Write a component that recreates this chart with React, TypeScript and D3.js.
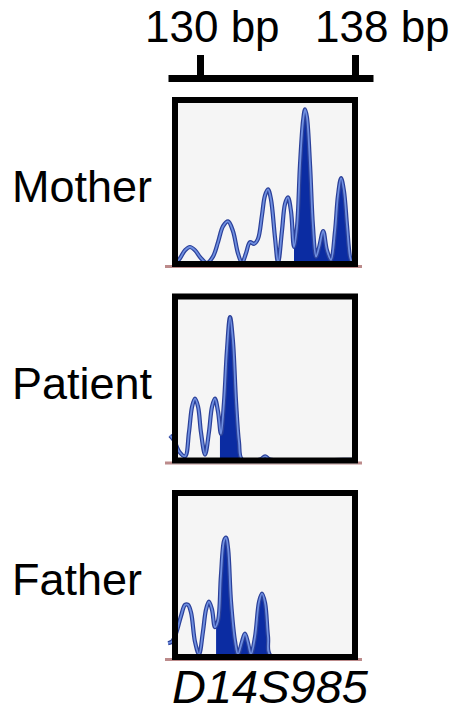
import React, { useEffect, useRef } from "react";
import * as d3 from "d3";

// fragment size labels on the top scale
const tickBp = [130, 138];
const tickLabels = ["130 bp", "138 bp"];

const panelNames = ["Mother", "Patient", "Father"];
const markerName = "D14S985";

// electropherogram traces: [size in bp, signal 0-100]
const motherTrace = [
  [128.76, 0], [128.97, 3], [129.23, 8], [129.48, 10], [129.74, 8], [130.05, 3],
  [130.36, 0], [130.67, 4], [130.93, 13], [131.19, 23], [131.45, 26], [131.7, 20],
  [131.96, 6], [132.17, 0], [132.37, 6], [132.58, 13], [132.79, 12], [132.99, 15],
  [133.2, 30], [133.35, 42], [133.51, 46], [133.66, 40], [133.87, 16], [134.03, 0],
  [134.23, 20], [134.39, 37], [134.54, 41], [134.7, 32], [134.85, 10], [135.01, 23],
  [135.16, 61], [135.32, 89], [135.42, 96], [135.52, 91], [135.68, 61], [135.83, 23],
  [135.99, 4], [136.15, 10], [136.36, 20], [136.55, 8], [136.76, 2], [136.97, 20],
  [137.12, 42], [137.28, 53], [137.43, 45], [137.59, 23], [137.74, 4], [137.85, 0],
];
const patientTrace = [
  [128.45, 15], [128.66, 12], [128.92, 5], [129.23, 2], [129.43, 17], [129.59, 33],
  [129.74, 38], [129.9, 33], [130.05, 17], [130.26, 3], [130.46, 17], [130.62, 33],
  [130.77, 38], [130.93, 30], [131.08, 16], [131.24, 36], [131.39, 68], [131.55, 89],
  [131.7, 74], [131.86, 36], [132.01, 11], [132.17, 0], [133.1, 0], [133.36, 2],
  [133.61, 0], [137.85, 0],
];
const fatherTrace = [
  [128.35, 8], [128.55, 9], [128.76, 14], [129.02, 25], [129.23, 32], [129.38, 32],
  [129.54, 27], [129.74, 9], [129.95, 1], [130.15, 15], [130.31, 29], [130.46, 34],
  [130.62, 29], [130.77, 18], [130.93, 22], [131.08, 50], [131.24, 72], [131.34, 74],
  [131.45, 67], [131.6, 34], [131.81, 9], [131.96, 1], [132.17, 9], [132.32, 14],
  [132.48, 8], [132.63, 1], [132.84, 12], [133.05, 34], [133.2, 39], [133.36, 33],
  [133.51, 12], [133.66, 0], [137.85, 0],
];

// allele peaks drawn filled: [from bp, to bp]
const motherAlleles = [[134.85, 137.9]];
const patientAlleles = [[131.03, 132.22]];
const fatherAlleles = [[130.83, 133.7]];

const traces = [motherTrace, patientTrace, fatherTrace];
const alleles = [motherAlleles, patientAlleles, fatherAlleles];

const App = () => {
  const container = useRef(null);

  useEffect(() => {
    const width = 463;
    const height = 713;
    const font = "'Liberation Sans', Arial, Helvetica, sans-serif";

    const panelLeft = 172;
    const panelWidth = 186;
    const panelHeight = 170;
    const panelTop0 = 97;
    const panelStep = 196.5;
    const border = 6;

    const x = d3.scaleLinear().domain([130, 138]).range([200, 355]);

    const svg = d3
      .select(container.current)
      .append("svg")
      .attr("width", width)
      .attr("height", height)
      .attr("viewBox", [0, 0, width, height])
      .style("position", "absolute")
      .style("left", 0)
      .style("top", 0)
      .style("background", "#fff");

    // top size scale
    const axisScale = d3
      .scaleLinear()
      .domain([x.invert(168), x.invert(373)])
      .range([168, 373]);

    svg
      .append("g")
      .attr("transform", "translate(0,78)")
      .call(d3.axisBottom(axisScale).tickValues(tickBp).tickSize(-23).tickSizeOuter(0))
      .call((g) => g.selectAll("text").remove())
      .call((g) => g.select(".domain").attr("stroke", "#000").attr("stroke-width", 7))
      .call((g) => g.selectAll(".tick line").attr("stroke", "#000").attr("stroke-width", 7));

    svg
      .append("g")
      .selectAll("text")
      .data(tickLabels)
      .join("text")
      .attr("x", (d, i) => (i === 0 ? 145 : 315))
      .attr("y", 42)
      .attr("font-family", font)
      .attr("font-size", 44)
      .attr("fill", "#000")
      .text((d) => d);

    const defs = svg.append("defs");

    panelNames.forEach((name, i) => {
      const top = panelTop0 + i * panelStep;
      // zero signal sits just under the bottom border, like the scan
      const y = d3
        .scaleLinear()
        .domain([0, 100])
        .range([top + panelHeight - border + 2, top + border]);

      const g = svg.append("g");

      // faint red baseline of the scan
      g.append("line")
        .attr("x1", 165)
        .attr("x2", 362)
        .attr("y1", top + panelHeight - 0.5)
        .attr("y2", top + panelHeight - 0.5)
        .attr("stroke", "#a05a5a")
        .attr("stroke-opacity", 0.7)
        .attr("stroke-width", 3);

      g.append("rect")
        .attr("x", panelLeft)
        .attr("y", top)
        .attr("width", panelWidth)
        .attr("height", panelHeight)
        .attr("fill", "#f5f5f5");

      // keep the trace above the bottom border
      const clipId = `panel-${i}`;
      defs
        .append("clipPath")
        .attr("id", clipId)
        .append("rect")
        .attr("x", 160)
        .attr("y", top)
        .attr("width", panelLeft + panelWidth - 160)
        .attr("height", panelHeight - 3);

      const trace = g.append("g").attr("clip-path", `url(#${clipId})`);

      const line = d3
        .line()
        .x((d) => x(d[0]))
        .y((d) => y(d[1]))
        .curve(d3.curveCatmullRom.alpha(0.5));

      const area = d3
        .area()
        .x((d) => x(d[0]))
        .y0(y(0))
        .y1((d) => y(d[1]))
        .curve(d3.curveCatmullRom.alpha(0.5));

      alleles[i].forEach((a, j) => {
        const id = `allele-${i}-${j}`;
        defs
          .append("clipPath")
          .attr("id", id)
          .append("rect")
          .attr("x", x(a[0]))
          .attr("width", x(a[1]) - x(a[0]))
          .attr("y", top)
          .attr("height", panelHeight - 3);
        trace
          .append("path")
          .attr("d", area(traces[i]))
          .attr("clip-path", `url(#${id})`)
          .attr("fill", "#0b2ca2");
      });

      trace
        .append("path")
        .attr("d", line(traces[i]))
        .attr("fill", "none")
        .attr("stroke", "#2b4099")
        .attr("stroke-width", 4.2)
        .attr("stroke-linejoin", "round");

      trace
        .append("path")
        .attr("d", line(traces[i]))
        .attr("fill", "none")
        .attr("stroke", "#6f8fe0")
        .attr("stroke-width", 1.8)
        .attr("stroke-linejoin", "round");

      g.append("rect")
        .attr("x", panelLeft + border / 2)
        .attr("y", top + border / 2)
        .attr("width", panelWidth - border)
        .attr("height", panelHeight - border)
        .attr("fill", "none")
        .attr("stroke", "#000")
        .attr("stroke-width", border);

      svg
        .append("text")
        .attr("x", 12)
        .attr("y", top + 105)
        .attr("font-family", font)
        .attr("font-size", 45)
        .attr("fill", "#000")
        .text(name);
    });

    svg
      .append("text")
      .attr("x", 270)
      .attr("y", 703)
      .attr("text-anchor", "middle")
      .attr("font-family", font)
      .attr("font-style", "italic")
      .attr("font-size", 47)
      .attr("fill", "#000")
      .text(markerName);

    return () => {
      svg.remove();
    };
  }, []);

  return <div ref={container}></div>;
};

export default App;
